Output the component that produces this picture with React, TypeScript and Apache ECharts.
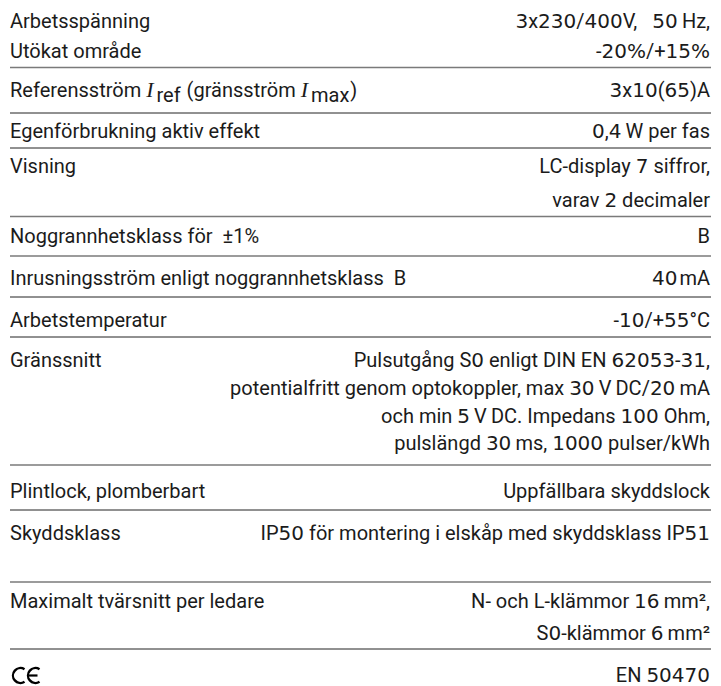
import React, { useEffect, useRef } from "react";
import * as echarts from "echarts";

// ---------- data ----------
const rowLabels: string[][] = [
  ["Arbetsspänning", "Utökat område"],
  [], // reference current row (built from refLabelParts)
  ["Egenförbrukning aktiv effekt"],
  ["Visning"],
  ["Noggrannhetsklass för  ±1%"],
  ["Inrusningsström enligt noggrannhetsklass  B"],
  ["Arbetstemperatur"],
  ["Gränssnitt"],
  ["Plintlock, plomberbart"],
  ["Skyddsklass"],
  ["Maximalt tvärsnitt per ledare"],
  [],
];

const refLabelParts: { t: string; k: "n" | "i" | "s" }[] = [
  { t: "Referensström ", k: "n" },
  { t: "I", k: "i" },
  { t: "ref", k: "s" },
  { t: " (gränsström ", k: "n" },
  { t: "I", k: "i" },
  { t: "max", k: "s" },
  { t: ")", k: "n" },
];

const rowValues: string[][] = [
  ["3x230/400V,\u2002 50\u2009Hz,", "-20%/+15%"],
  ["3x10(65)A"],
  ["0,4\u2009W per fas"],
  ["LC-display 7 siffror,", "varav 2 decimaler"],
  ["B"],
  ["40\u200amA"],
  ["-10/+55°C"],
  [
    "Pulsutgång S0 enligt DIN EN 62053-31,",
    "potentialfritt genom optokoppler, max 30\u2009V\u2009DC/20\u2009mA",
    "och min 5\u2009V\u2009DC. Impedans 100 Ohm,",
    "pulslängd 30\u2009ms, 1000 pulser/kWh",
  ],
  ["Uppfällbara skyddslock"],
  ["IP50 för montering i elskåp med skyddsklass IP51"],
  ["N- och L-klämmor 16\u2009mm²,", "S0-klämmor 6\u2009mm²"],
  ["EN 50470"],
];

// ---------- layout ----------
const W = 721;
const H = 686;
const LEFT = 10;
const RIGHT = 710;
const FONT = "Roboto";
const DIGIT_FONT = "DejaVu Sans";
const FS = 20;
const lineBaselines: number[][] = [
  [28, 58],
  [97],
  [138],
  [173, 207],
  [243],
  [285],
  [327],
  [367, 395, 423, 450],
  [498],
  [540],
  [608, 640],
  [682],
];
const dividers: { y: number; gray: boolean }[] = [
  { y: 67.5, gray: true },
  { y: 113, gray: false },
  { y: 148, gray: false },
  { y: 216.5, gray: true },
  { y: 256, gray: true },
  { y: 297, gray: false },
  { y: 337, gray: false },
  { y: 465, gray: true },
  { y: 510, gray: false },
  { y: 582, gray: true },
  { y: 649, gray: false },
];

const TEXT_COLOR = "#1b1b1b";
const midOffset = FS * 0.36;

let ctx2d: CanvasRenderingContext2D | null = null;
function measure(text: string, font: string): number {
  if (!ctx2d) ctx2d = document.createElement("canvas").getContext("2d")!;
  ctx2d.font = font;
  return ctx2d.measureText(text).width;
}

export default function App() {
  const ref = useRef<HTMLDivElement>(null);
  useEffect(() => {
    document.body.style.margin = "0";
    const chart = echarts.init(ref.current!, undefined, { renderer: "svg" });
    const elements: any[] = [];

    dividers.forEach((d) => {
      elements.push({
        type: "line",
        shape: { x1: LEFT, y1: d.y, x2: RIGHT + 1, y2: d.y },
        style: { stroke: d.gray ? "#7a7a7a" : "#222", lineWidth: d.gray ? 1.6 : 1 },
      });
    });

    const textEl = (x: number, baseline: number, text: string, align: string, family = FONT, size = FS) => ({
      type: "text",
      x,
      y: baseline - size * 0.36,
      style: {
        text,
        fill: TEXT_COLOR,
        fontFamily: family,
        fontSize: size,
        align,
        verticalAlign: "middle",
      },
    });

    rowLabels.forEach((lines, r) => {
      lines.forEach((t, i) => {
        elements.push(textEl(LEFT, lineBaselines[r][i], t, "left"));
      });
    });

    // reference row with italic symbols and subscripts
    let x = LEFT;
    const b = lineBaselines[1][0];
    refLabelParts.forEach((p) => {
      if (p.k === "n") {
        elements.push(textEl(x, b, p.t, "left"));
        x += measure(p.t, `${FS}px ${FONT}`);
      } else if (p.k === "i") {
        const f = `italic ${FS + 2}px "Liberation Serif"`;
        elements.push({
          type: "text",
          x,
          y: b - midOffset,
          style: {
            text: p.t,
            fill: TEXT_COLOR,
            fontFamily: "Liberation Serif",
            fontStyle: "italic",
            fontSize: FS + 2,
            align: "left",
            verticalAlign: "middle",
          },
        });
        x += measure(p.t, f) + 3;
      } else {
        const fs = FS;
        elements.push(textEl(x, b + 5, p.t, "left", FONT, fs));
        x += measure(p.t, `${fs}px ${FONT}`) + 1;
      }
    });

    // values: digits and % drawn in a wider face, right aligned
    rowValues.forEach((lines, r) => {
      lines.forEach((t, i) => {
        const runs = t.split(/([0-9%]+)/).filter((s) => s.length > 0);
        const widths = runs.map((s) =>
          /^[0-9%]+$/.test(s) ? measure(s, `${FS}px "${DIGIT_FONT}"`) : measure(s, `${FS}px ${FONT}`)
        );
        const total = widths.reduce((a, c) => a + c, 0);
        let xx = RIGHT - total;
        runs.forEach((s, k) => {
          const isD = /^[0-9%]+$/.test(s);
          elements.push(textEl(xx, lineBaselines[r][i], s, "left", isD ? DIGIT_FONT : FONT, FS));
          xx += widths[k];
        });
      });
    });

    // CE mark
    const ceY = 675.5;
    const ceR = 7.5;
    [20.5, 35.5].forEach((cx) => {
      elements.push({
        type: "arc",
        shape: { cx, cy: ceY, r: ceR, startAngle: Math.PI * 0.32, endAngle: Math.PI * 1.68, clockwise: true },
        style: { stroke: "#000", lineWidth: 2.4, fill: "none" },
      });
    });
    elements.push({
      type: "line",
      shape: { x1: 28.5, y1: ceY, x2: 37.5, y2: ceY },
      style: { stroke: "#000", lineWidth: 2.2 },
    });

    chart.setOption({
      animation: false,
      backgroundColor: "#fff",
      graphic: { elements },
    });
    return () => chart.dispose();
  }, []);
  return <div ref={ref} style={{ position: "fixed", left: 0, top: 0, width: W, height: H }} />;
}
